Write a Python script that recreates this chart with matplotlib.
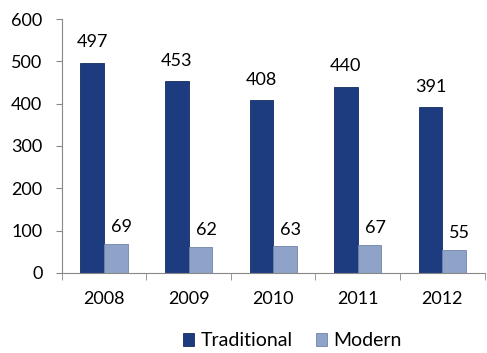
import numpy as np
import matplotlib.pyplot as plt

plt.rcParams['font.family'] = ['Lato', 'DejaVu Sans']

years = ['2008', '2009', '2010', '2011', '2012']
traditional = [497, 453, 408, 440, 391]
modern = [69, 62, 63, 67, 55]

fig = plt.figure(figsize=(4.87, 3.53), dpi=100)
ax = fig.add_axes([0.127, 0.227, 0.868, 0.719])

x = np.arange(len(years))
w = 0.28
b1 = ax.bar(x - w / 2, traditional, w, color='#1D3C80', edgecolor='#152c60', linewidth=0.6,
            label='Traditional')
b2 = ax.bar(x + w / 2, modern, w, color='#8FA3C8', edgecolor='#6f84aa', linewidth=0.6,
            label='Modern')

for r, v in zip(b1, traditional):
    ax.annotate(str(v), xy=(r.get_x() + r.get_width() / 2, v), xytext=(0, 9),
                textcoords='offset points', ha='center', va='bottom', fontsize=13)
for r, v in zip(b2, modern):
    ax.annotate(str(v), xy=(r.get_x() + r.get_width() / 2, v), xytext=(4, 6),
                textcoords='offset points', ha='center', va='bottom', fontsize=13)

ax.set_xlim(-0.5, len(years) - 0.5)
ax.set_ylim(0, 600)
ax.set_yticks(range(0, 601, 100))
ax.set_xticks(x)
ax.set_xticklabels(years)
ax.set_xticks(np.arange(-0.5, len(years), 1), minor=True)
ax.tick_params(axis='x', which='major', length=0, pad=13, labelsize=13)
ax.tick_params(axis='x', which='minor', length=5, color='#888888', direction='out')
ax.tick_params(axis='y', length=4, color='#888888', labelsize=13, pad=10)

for s in ['top', 'right']:
    ax.spines[s].set_visible(False)
for s in ['left', 'bottom']:
    ax.spines[s].set_color('#888888')

ax.legend(loc='upper center', bbox_to_anchor=(0.545, -0.165), ncol=2, frameon=False,
          fontsize=14, handlelength=0.6, handleheight=0.6, handletextpad=0.3,
          columnspacing=1.2)

fig.savefig('out.png', dpi=100)
